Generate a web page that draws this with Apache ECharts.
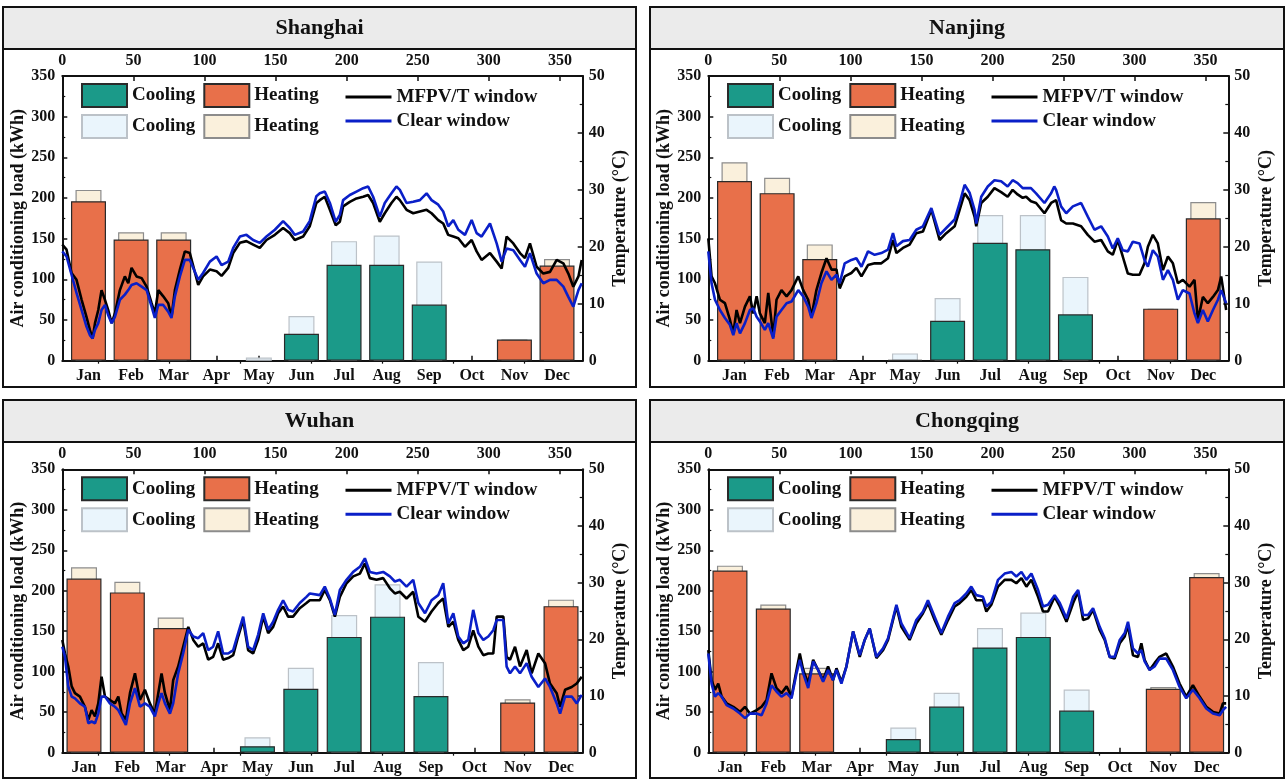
<!DOCTYPE html>
<html>
<head>
<meta charset="utf-8">
<title>Air conditioning load and indoor temperature</title>
<script src="https://cdn.jsdelivr.net/npm/echarts@6/dist/echarts.min.js"></script>
<style>
  html, body { margin: 0; padding: 0; background: #fff; }
  #chart { width: 1287px; height: 780px; }
</style>
</head>
<body>
<div id="chart"></div>
<script>
// ---- categories and tick labels ----
const months = ['Jan', 'Feb', 'Mar', 'Apr', 'May', 'Jun', 'Jul', 'Aug', 'Sep', 'Oct', 'Nov', 'Dec'];
const dayTicks = [0, 50, 100, 150, 200, 250, 300, 350];
const dayMinorTicks = [25, 75, 125, 175, 225, 275, 325];

// ---- monthly air conditioning load (kWh) ----
// MFPV/T window
const shanghaiHeatMfpvt = [196, 149, 149, null, null, null, null, null, null, null, 26, 117];
const shanghaiCoolMfpvt = [null, null, null, null, null, 33, 118, 118, 69, null, null, null];
const nanjingHeatMfpvt  = [221, 206, 125, null, null, null, null, null, null, null, 64, 175];
const nanjingCoolMfpvt  = [null, null, null, null, 1, 49, 145, 137, 57, null, null, null];
const wuhanHeatMfpvt    = [215, 198, 154, null, null, null, null, null, null, null, 62, 181];
const wuhanCoolMfpvt    = [null, null, null, null, 8, 79, 143, 168, 70, null, null, null];
const chongqingHeatMfpvt = [225, 178, 98, null, null, null, null, null, null, null, 79, 217];
const chongqingCoolMfpvt = [null, null, null, null, 17, 57, 130, 143, 52, null, null, null];
// Clear window
const shanghaiHeatClear = [210, 158, 158, null, null, null, null, null, null, null, 26, 125];
const shanghaiCoolClear = [null, null, null, null, 4, 55, 147, 154, 122, null, null, null];
const nanjingHeatClear  = [244, 225, 143, null, null, null, null, null, null, null, 64, 195];
const nanjingCoolClear  = [null, null, null, null, 9, 77, 179, 179, 103, null, null, null];
const wuhanHeatClear    = [229, 211, 167, null, null, null, null, null, null, null, 66, 189];
const wuhanCoolClear    = [null, null, null, null, 19, 105, 170, 208, 112, null, null, null];
const chongqingHeatClear = [231, 183, 105, null, null, null, null, null, null, null, 81, 222];
const chongqingCoolClear = [null, null, null, null, 31, 74, 154, 173, 78, null, null, null];

// ---- indoor temperature (°C), [day of year, value] ----
const shanghaiTempMfpvt = [[0,20.4],[3,19.5],[6.5,15.4],[10,14.2],[13.6,10.7],[17,7.7],[19.4,5.4],[21.3,3.9],[23,6.6],[25.3,8.9],[27.6,12.4],[30,10.7],[32.3,8.9],[34.7,6.6],[37,8.3],[40.5,12.4],[44,14.8],[46.4,13.6],[48.7,16.3],[52.2,14.8],[55.8,14.5],[59.3,13.0],[62.8,10.1],[65.1,8.3],[67.5,12.4],[71,11.3],[74.5,10.1],[76.8,7.7],[79.2,12.4],[82.7,16.0],[86.2,19.2],[89.7,18.9],[95.6,13.3],[99,14.8],[103.8,16.0],[108.5,15.7],[112,14.9],[116.7,16.3],[120.2,18.9],[124.9,20.7],[129.5,21.0],[134.2,20.4],[138.9,19.8],[143.6,21.2],[149.5,22.1],[155.3,23.3],[160,22.4],[163.5,21.2],[169.4,21.8],[174,23.6],[178.7,27.7],[181.1,28.2],[184.6,28.8],[188.2,26.5],[192.3,23.8],[195.2,24.4],[197.5,27.1],[202.2,27.9],[206.9,28.5],[211.6,28.8],[215.1,29.1],[218.6,27.7],[223.3,24.4],[226.8,25.9],[231.5,27.7],[235,28.8],[237.4,28.2],[242.1,26.5],[246.8,25.9],[251.5,26.2],[256.2,26.5],[259.7,25.9],[264.4,24.7],[267.9,24.1],[271.4,22.1],[275,21.8],[278.5,21.5],[283.2,20.0],[287.9,21.2],[291.4,19.2],[294.9,17.7],[300.8,18.9],[305.5,17.4],[309,16.2],[312.5,21.8],[317.2,20.6],[321.9,18.9],[325.4,18.0],[328.9,20.6],[333.6,16.5],[338.3,15.3],[343,15.6],[347.7,17.7],[352.4,17.1],[355.9,15.3],[359.4,13.0],[363,14.8],[365.3,17.7]];
const shanghaiTempClear = [[0,19.2],[3,18.3],[6.5,15.1],[10,11.9],[13.6,8.9],[17,6.0],[19.4,4.5],[21.3,3.9],[23,5.4],[25.3,6.6],[27.6,8.9],[30,9.8],[32.3,8.0],[34.7,6.6],[37,7.7],[40.5,10.7],[44,11.6],[46.4,12.4],[48.7,13.3],[52.2,13.6],[55.8,13.0],[59.3,12.4],[62.8,9.5],[65.1,7.5],[67.5,9.8],[71,9.8],[74.5,8.6],[76.8,7.5],[79.2,11.3],[82.7,14.8],[86.2,17.7],[89.7,17.7],[95.6,14.2],[99,15.4],[103.8,17.4],[108.5,18.3],[112,16.8],[116.7,17.4],[120.2,19.8],[124.9,21.8],[129.5,22.1],[134.2,21.2],[138.9,20.7],[143.6,21.8],[149.5,23.0],[155.3,24.5],[160,23.3],[163.5,22.1],[169.4,22.7],[174,24.5],[178.7,28.9],[181.1,29.4],[184.6,29.7],[188.2,27.7],[192.3,24.4],[195.2,25.6],[197.5,28.2],[202.2,29.1],[206.9,29.7],[211.6,30.3],[215.1,30.6],[218.6,28.8],[223.3,25.3],[226.8,27.7],[231.5,29.4],[235,30.6],[237.4,30.0],[242.1,27.7],[246.8,27.9],[251.5,28.2],[256.2,29.4],[259.7,28.2],[264.4,27.4],[267.9,26.2],[271.4,23.6],[275,24.7],[278.5,23.0],[283.2,22.1],[287.9,24.7],[291.4,22.4],[294.9,21.8],[300.8,24.1],[305.5,20.6],[309,17.4],[312.5,19.7],[317.2,19.4],[321.9,17.7],[325.4,16.5],[328.9,18.9],[333.6,15.3],[338.3,13.6],[343,14.2],[347.7,14.2],[352.4,13.0],[355.9,11.2],[359.4,9.5],[363,12.4],[365.3,13.6]];

const nanjingTempMfpvt = [[0,21.5],[2.3,14.8],[4.7,13.6],[8.2,10.7],[11.7,10.1],[15.2,7.2],[17.6,4.8],[19.9,8.9],[22.3,6.6],[25.8,9.5],[29.3,11.3],[31.6,8.3],[34,11.3],[36.3,8.3],[39.8,6.6],[42.2,11.9],[45.7,4.2],[48,10.7],[51.5,12.4],[55.1,11.3],[58.6,12.4],[63.3,14.8],[66.8,12.4],[70.3,10.7],[72.6,7.7],[76.1,12.4],[79.6,15.4],[83.2,18.0],[86.7,16.0],[90.2,16.0],[92.5,12.7],[96,14.8],[100.7,15.4],[104.2,16.3],[107.8,14.8],[112.4,16.8],[117.1,17.1],[121.8,17.1],[126.5,18.0],[130,21.2],[132.4,18.9],[137,19.8],[141.7,20.4],[146.4,22.4],[151.1,22.7],[157,26.5],[162.8,21.2],[167.5,22.4],[173.4,23.6],[176.9,26.5],[180.4,29.4],[183.9,28.2],[187.4,25.3],[188.6,23.6],[192.1,27.7],[196.7,28.8],[201.4,30.3],[206.1,29.6],[210.7,28.8],[214.2,30.0],[217.7,29.2],[221.3,28.6],[223.7,28.8],[227.1,28.0],[230.7,27.7],[236.6,25.9],[241.3,27.7],[244.8,28.2],[248.3,24.7],[251.9,24.1],[256.6,24.1],[262.4,23.6],[267.1,22.1],[271.8,20.9],[276.5,21.2],[281.2,19.2],[284.7,18.6],[288.2,21.2],[291.7,18.3],[295.3,15.3],[298.8,15.1],[303.5,15.1],[307,17.1],[309.4,20.0],[312.9,22.1],[316.4,20.6],[320,15.9],[323.5,18.3],[327,17.1],[330.5,13.6],[334,14.2],[338.7,13.0],[342.2,14.2],[344.6,7.1],[348.1,11.2],[351.6,10.1],[355.2,11.2],[358.7,12.4],[361,14.8],[364.5,8.9]];
const nanjingTempClear = [[0,19.2],[2.3,13.6],[4.7,10.7],[8.2,8.9],[11.7,7.5],[15.2,6.3],[17.6,4.5],[19.9,6.6],[22.3,4.8],[25.8,6.6],[29.3,8.9],[31.6,9.2],[34,7.7],[36.3,6.9],[39.8,5.4],[42.2,6.6],[45.7,3.9],[48,7.7],[51.5,8.9],[55.1,10.1],[58.6,10.4],[63.3,12.4],[66.8,11.3],[70.3,9.5],[72.6,7.5],[76.1,10.1],[79.6,13.6],[83.2,15.7],[86.7,14.2],[90.2,15.1],[92.5,13.6],[96,17.1],[100.7,17.7],[104.2,18.0],[107.8,16.5],[112.4,19.2],[117.1,18.6],[121.8,18.9],[126.5,19.5],[130,22.4],[132.4,20.1],[137,21.0],[141.7,21.2],[146.4,23.0],[151.1,23.6],[157,26.8],[162.8,22.1],[167.5,23.3],[173.4,24.8],[176.9,27.7],[180.4,30.9],[183.9,29.5],[187.4,26.5],[188.6,24.1],[192.1,28.8],[196.7,30.6],[201.4,31.7],[206.1,31.5],[210.7,30.6],[214.2,31.7],[217.7,31.2],[221.3,30.3],[223.7,30.3],[227.1,30.3],[230.7,29.4],[236.6,27.7],[241.3,29.4],[243.5,30.6],[244.8,30.0],[248.3,27.1],[251.9,25.9],[256.6,27.1],[262.4,27.7],[267.1,25.3],[271.8,23.0],[276.5,23.6],[281.2,21.8],[284.7,19.7],[288.2,21.5],[291.7,19.4],[295.3,19.2],[298.8,20.9],[303.5,20.6],[307,17.7],[309.4,16.5],[312.9,19.4],[316.4,18.3],[320,14.2],[323.5,15.9],[327,14.2],[330.5,10.7],[334,12.4],[338.7,11.8],[342.2,8.3],[344.6,6.6],[348.1,8.9],[351.6,6.9],[355.2,8.9],[358.7,10.7],[361,12.4],[364.5,10.1]];

const wuhanTempMfpvt = [[0,19.9],[1.9,17.5],[4.2,15.2],[6.6,11.7],[8.9,10.5],[12.4,9.9],[15.9,8.1],[18.3,5.8],[20.6,7.5],[23,6.4],[25.3,8.7],[27.6,13.4],[30,9.9],[33.5,9.3],[37,8.7],[39.4,9.9],[41.7,6.9],[44.7,5.8],[47.6,10.5],[51.1,14.0],[54.6,9.3],[58.1,11.1],[61.6,8.7],[65.1,6.9],[67.5,10.5],[69.8,14.0],[72.2,10.5],[75.7,7.5],[78,12.8],[81.5,15.2],[85,18.7],[88.6,22.2],[92.1,19.9],[95.6,18.7],[99.1,19.3],[102.6,16.4],[106.1,16.9],[109.6,19.3],[113.1,16.4],[116.7,16.7],[120.2,17.2],[123.7,20.5],[127.2,23.4],[130.7,18.1],[134.2,17.5],[137.7,19.9],[141.3,24.0],[144.8,21.1],[148.3,22.2],[151.8,24.6],[155.3,25.8],[158.8,24.0],[162.3,24.0],[167,25.5],[171.7,26.4],[174.1,26.9],[181.1,26.9],[184.6,28.7],[188.2,26.9],[191.7,24.0],[195.2,27.5],[199.9,29.9],[204.6,31.1],[209.3,31.6],[212.8,33.4],[216.3,30.8],[221,30.5],[225.7,30.8],[230.4,29.0],[233.9,28.1],[237.4,28.4],[242.1,27.2],[246.8,28.4],[250.4,24.0],[255.1,23.1],[259.7,24.9],[264.4,26.4],[267.9,27.2],[271.5,22.2],[275,23.1],[278.5,19.9],[282,18.1],[285.5,18.7],[289,21.6],[292.6,18.7],[296.1,17.2],[299.6,17.5],[303.1,17.5],[305.5,24.0],[310.2,24.0],[312.5,16.9],[314.9,16.4],[318.4,18.7],[321.9,15.2],[326.6,18.1],[330.1,14.0],[334.8,17.5],[339.5,15.8],[343,12.2],[347.7,10.5],[350.1,8.1],[353.6,11.1],[358.3,11.6],[361.8,12.2],[365.3,13.4]];
const wuhanTempClear = [[0,18.7],[1.9,16.9],[4.2,11.7],[6.6,9.9],[8.9,9.6],[12.4,8.7],[15.9,8.1],[18.3,5.2],[20.6,5.5],[23,5.2],[25.3,6.9],[27.6,9.9],[30,9.9],[33.5,8.7],[37,8.1],[39.4,7.5],[41.7,6.4],[44.7,4.9],[47.6,8.7],[51.1,11.4],[54.6,8.1],[58.1,8.7],[61.6,8.1],[65.1,6.4],[67.5,8.7],[69.8,10.5],[72.2,8.7],[75.7,6.9],[78,8.7],[81.5,14.0],[85,17.5],[88.6,21.7],[92.1,20.5],[95.6,20.2],[99.1,21.1],[102.6,18.1],[106.1,18.7],[109.6,21.4],[113.1,17.5],[116.7,17.5],[120.2,18.1],[123.7,21.1],[127.2,24.0],[130.7,18.7],[134.2,18.1],[137.7,20.8],[141.3,24.6],[144.8,21.7],[148.3,23.1],[151.8,25.2],[155.3,26.9],[158.8,25.2],[162.3,24.9],[167,26.4],[171.7,27.5],[174.1,28.1],[181.1,27.8],[184.6,29.3],[188.2,27.2],[191.7,24.3],[195.2,28.7],[199.9,30.5],[204.6,31.9],[209.3,32.8],[212.8,34.3],[216.3,31.9],[221,31.6],[225.7,31.9],[230.4,31.1],[233.9,30.2],[237.4,30.5],[242.1,29.3],[246.8,30.5],[250.4,26.4],[255.1,24.6],[259.7,26.9],[264.4,27.8],[267.9,29.9],[271.5,22.8],[275,24.6],[278.5,20.5],[282,19.3],[285.5,19.9],[289,25.2],[292.6,21.1],[296.1,19.9],[299.6,20.5],[303.1,21.6],[305.5,23.4],[310.2,23.4],[312.5,15.2],[314.9,14.0],[318.4,15.2],[321.9,14.0],[326.6,15.8],[330.1,13.4],[334.8,11.6],[339.5,13.1],[343,11.6],[347.7,8.7],[350.1,6.9],[353.6,9.9],[358.3,9.9],[361.8,8.7],[365.3,10.2]];

const chongqingTempMfpvt = [[0,18.1],[2.3,12.8],[4.7,11.1],[7,12.2],[9.4,9.9],[12.9,8.7],[17.6,8.1],[22.3,7.2],[25.8,8.1],[29.3,6.9],[34,7.5],[37.5,8.1],[41,9.3],[44.5,14.0],[48,11.4],[51.5,10.5],[55.1,11.7],[58.6,9.9],[62.1,14.6],[64.4,17.5],[66.8,14.6],[70.3,12.2],[73.8,16.4],[77.3,14.6],[80.8,12.8],[84.3,15.2],[87.8,12.8],[90.2,14.9],[93.7,12.5],[97.2,15.2],[101.9,21.4],[106.6,16.9],[110.1,19.9],[113.6,21.9],[118.3,16.7],[123,18.1],[126.5,19.9],[132.4,25.8],[135.9,22.2],[141.7,19.9],[146.4,22.8],[151.1,24.6],[154.6,26.4],[159.3,23.4],[164,20.8],[168.7,23.4],[173.4,25.8],[176.9,26.4],[181.6,27.5],[185.1,28.7],[188.6,26.9],[193.3,26.9],[195.7,24.9],[199.2,26.1],[203.9,29.3],[208.6,30.5],[213.3,30.5],[216.8,29.9],[220.4,30.8],[223.9,29.3],[227.4,30.5],[232.1,27.5],[235.6,24.9],[239.1,24.9],[243.8,27.5],[247.4,25.8],[252.1,23.1],[256.8,26.4],[260.3,28.4],[263.8,23.4],[267.3,23.7],[270.8,25.2],[275.5,21.6],[279,19.9],[282.5,16.9],[286,16.6],[289.6,19.3],[293.1,20.5],[295.4,22.5],[298.9,17.2],[302.4,16.9],[304.8,19.3],[307.1,16.4],[310.6,14.6],[314.1,15.8],[317.6,16.9],[322.3,17.5],[327,15.2],[331.7,12.2],[336.4,9.9],[341.1,11.9],[345.8,9.9],[350.5,8.1],[355.2,7.2],[359.9,6.9],[362.2,8.7],[364.5,8.7]];
const chongqingTempClear = [[0,17.5],[2.3,12.2],[4.7,9.9],[7,10.5],[9.4,9.9],[12.9,8.4],[17.6,7.8],[22.3,6.9],[25.8,6.1],[29.3,6.9],[34,6.9],[37.5,6.6],[41,8.7],[44.5,11.9],[48,10.8],[51.5,9.9],[55.1,10.5],[58.6,9.6],[62.1,14.0],[64.4,16.4],[66.8,14.0],[70.3,11.4],[73.8,16.1],[77.3,14.6],[80.8,12.5],[84.3,14.6],[87.8,12.8],[90.2,14.6],[93.7,12.2],[97.2,15.2],[101.9,21.4],[106.6,17.2],[110.1,19.9],[113.6,21.9],[118.3,16.9],[123,18.4],[126.5,20.2],[132.4,26.1],[135.9,22.8],[141.7,20.2],[146.4,23.4],[151.1,24.9],[154.6,26.9],[159.3,24.0],[164,21.1],[168.7,24.0],[173.4,26.4],[176.9,26.9],[181.6,28.1],[185.1,29.3],[188.6,27.8],[193.3,27.5],[195.7,25.8],[199.2,26.6],[203.9,30.5],[208.6,31.6],[213.3,31.9],[216.8,31.1],[220.4,31.9],[223.9,30.5],[227.4,31.6],[232.1,28.7],[235.6,25.8],[239.1,26.1],[243.8,27.8],[247.4,26.4],[252.1,23.7],[256.8,27.5],[260.3,28.7],[263.8,24.3],[267.3,24.3],[270.8,25.5],[275.5,22.2],[279,20.2],[282.5,16.9],[286,16.9],[289.6,19.9],[293.1,21.1],[295.4,23.1],[298.9,18.4],[302.4,17.5],[304.8,18.1],[307.1,16.1],[310.6,14.6],[314.1,15.2],[317.6,16.6],[322.3,16.6],[327,14.6],[331.7,11.6],[336.4,9.6],[341.1,11.1],[345.8,9.6],[350.5,7.8],[355.2,6.9],[359.9,6.6],[362.2,7.5],[364.5,8.1]];

// ---- panel layout (pixels): outer box, plot frame, bar band ----
const panels = [
  { name: 'Shanghai',  box: [3, 7, 633, 380],   plot: [62.3, 76, 520.4, 284.7],   bars: [67.2, 511.1],
    heatM: shanghaiHeatMfpvt, coolM: shanghaiCoolMfpvt, heatC: shanghaiHeatClear, coolC: shanghaiCoolClear,
    tempM: shanghaiTempMfpvt, tempC: shanghaiTempClear },
  { name: 'Nanjing',   box: [650, 7, 634, 380], plot: [708.3, 76, 520, 284.7],    bars: [713.2, 511.4],
    heatM: nanjingHeatMfpvt, coolM: nanjingCoolMfpvt, heatC: nanjingHeatClear, coolC: nanjingCoolClear,
    tempM: nanjingTempMfpvt, tempC: nanjingTempClear },
  { name: 'Wuhan',     box: [3, 400, 633, 378],  plot: [62.3, 469.3, 520.4, 283.4], bars: [62.3, 520.4],
    heatM: wuhanHeatMfpvt, coolM: wuhanCoolMfpvt, heatC: wuhanHeatClear, coolC: wuhanCoolClear,
    tempM: wuhanTempMfpvt, tempC: wuhanTempClear },
  { name: 'Chongqing', box: [650, 400, 634, 378], plot: [708.3, 469.3, 520, 283.4],  bars: [708.3, 520],
    heatM: chongqingHeatMfpvt, coolM: chongqingCoolMfpvt, heatC: chongqingHeatClear, coolC: chongqingCoolClear,
    tempM: chongqingTempMfpvt, tempC: chongqingTempClear }
];

const SERIF = '"Liberation Serif", "Times New Roman", Times, serif';
const INK = '#111';
const lineAxis = { show: true, onZero: false, lineStyle: { color: INK, width: 2 } };
const labelFont = { fontFamily: SERIF, fontWeight: 'bold', fontSize: 16, color: INK };

const option = {
  animation: false,
  backgroundColor: '#fff',
  grid: [], xAxis: [], yAxis: [], series: [], legend: [], graphic: []
};

const legendText = { fontFamily: SERIF, fontWeight: 'bold', fontSize: 19, color: INK };
const stripWindow = n => n.replace(/ \(.*\)$/, '');

panels.forEach(p => {
  const [L, T, W, H] = p.plot;
  const gB = option.grid.length;
  option.grid.push({ left: L, top: T, width: W, height: H });
  const gA = option.grid.length;
  option.grid.push({ left: p.bars[0], top: T, width: p.bars[1], height: H });

  const xi = option.xAxis.length;
  option.xAxis.push(
    // day of year, top
    { gridIndex: gB, type: 'value', position: 'top', min: 0, max: 366,
      axisLine: lineAxis,
      axisTick: { show: true, inside: true, length: 5, customValues: dayTicks, lineStyle: { color: INK, width: 1.5 } },
      axisLabel: Object.assign({ margin: 7, customValues: dayTicks }, labelFont),
      splitLine: { show: false } },
    // minor day ticks
    { gridIndex: gB, type: 'value', position: 'top', min: 0, max: 366,
      axisLine: { show: false },
      axisTick: { show: true, inside: true, length: 3, customValues: dayMinorTicks, lineStyle: { color: INK, width: 1.2 } },
      axisLabel: { show: false }, splitLine: { show: false } },
    // bottom frame line
    { gridIndex: gB, type: 'value', position: 'bottom', min: 0, max: 366,
      axisLine: lineAxis, axisTick: { show: false }, axisLabel: { show: false }, splitLine: { show: false } },
    // month band for the clear-window bars
    { gridIndex: gA, type: 'category', position: 'bottom', data: months, show: false },
    // month band for the MFPV/T bars, carries the month labels
    { gridIndex: gA, type: 'category', position: 'bottom', data: months,
      axisLine: { show: false },
      axisTick: { show: true, inside: true, alignWithLabel: true, length: 5, lineStyle: { color: INK, width: 1.5 } },
      axisLabel: Object.assign({ margin: 7 }, labelFont) }
  );

  const yi = option.yAxis.length;
  option.yAxis.push(
    { gridIndex: gB, type: 'value', position: 'left', min: 0, max: 350, interval: 50,
      axisLine: lineAxis,
      axisTick: { show: true, inside: true, length: 5, lineStyle: { color: INK, width: 1.5 } },
      minorTick: { show: true, splitNumber: 2, length: 3, lineStyle: { color: INK, width: 1.2 } },
      axisLabel: Object.assign({ margin: 7 }, labelFont),
      splitLine: { show: false },
      name: 'Air conditioning load (kWh)', nameLocation: 'middle', nameGap: 35,
      nameTextStyle: { fontFamily: SERIF, fontWeight: 'bold', fontSize: 18, color: INK } },
    { gridIndex: gB, type: 'value', position: 'right', min: 0, max: 50, interval: 10,
      axisLine: lineAxis,
      axisTick: { show: true, inside: true, length: 5, lineStyle: { color: INK, width: 1.5 } },
      minorTick: { show: true, splitNumber: 2, length: 3, lineStyle: { color: INK, width: 1.2 } },
      axisLabel: Object.assign({ margin: 6 }, labelFont),
      splitLine: { show: false },
      name: 'Temperature (°C)', nameLocation: 'middle', nameGap: 29,
      nameTextStyle: { fontFamily: SERIF, fontWeight: 'bold', fontSize: 18, color: INK } },
    { gridIndex: gA, type: 'value', min: 0, max: 350, show: false }
  );

  const lightBar = (name, data, color, border) => ({
    type: 'bar', name, data, xAxisIndex: xi + 3, yAxisIndex: yi + 2,
    barWidth: 26, barGap: '-100%',
    itemStyle: { color, borderColor: border, borderWidth: 1.2 }
  });
  const darkBar = (name, data, color) => ({
    type: 'bar', name, data, xAxisIndex: xi + 4, yAxisIndex: yi + 2,
    barWidth: 35, barGap: '-100%',
    itemStyle: { color, borderColor: '#2a2a2a', borderWidth: 1.2 }
  });
  const tempLine = (name, data, color) => ({
    type: 'line', name, data, xAxisIndex: xi, yAxisIndex: yi + 1,
    symbol: 'none', showSymbol: false, smooth: false,
    lineStyle: { color, width: 2.6 }, itemStyle: { color }
  });

  option.series.push(
    lightBar('Cooling (Clear window)', p.coolC, '#eaf5fc', '#bcc2c8'),
    lightBar('Heating (Clear window)', p.heatC, '#faf0dc', '#8c8c8c'),
    darkBar('Cooling (MFPV/T window)', p.coolM, '#1b9a89'),
    darkBar('Heating (MFPV/T window)', p.heatM, '#e8704a'),
    tempLine('MFPV/T window', p.tempM, '#000000'),
    tempLine('Clear window', p.tempC, '#0a1fc8')
  );

  const legendCol = (left, top, names, w, extra) => Object.assign({
    orient: 'vertical', left, top, padding: 0, itemGap: 6,
    itemWidth: w, itemHeight: 23, selectedMode: false,
    data: names, formatter: stripWindow, textStyle: legendText
  }, extra);
  option.legend.push(
    legendCol(L + 18.7, T + 7, ['Cooling (MFPV/T window)', 'Cooling (Clear window)'], 45, { icon: 'rect' }),
    legendCol(L + 141, T + 7, ['Heating (MFPV/T window)', 'Heating (Clear window)'], 45, { icon: 'rect' }),
    // plain line keys: the marker dot is made transparent
    legendCol(L + 281.7, T + 11.5, ['MFPV/T window', 'Clear window'], 46,
      { itemHeight: 20, itemGap: 5,
        itemStyle: { color: 'rgba(0,0,0,0)', borderColor: 'rgba(0,0,0,0)', borderWidth: 0 },
        lineStyle: { width: 3 } })
  );

  const [bx, by, bw, bh] = p.box;
  option.graphic.push(
    { type: 'rect', shape: { x: bx, y: by, width: bw, height: 42 },
      style: { fill: '#ebebeb', stroke: INK, lineWidth: 2 } },
    { type: 'rect', shape: { x: bx, y: by, width: bw, height: bh },
      style: { fill: 'none', stroke: INK, lineWidth: 2 } },
    { type: 'text', x: bx + bw / 2, y: by + 21,
      style: { text: p.name, font: 'bold 22px ' + SERIF, fill: INK,
               align: 'center', verticalAlign: 'middle', textAlign: 'center', textVerticalAlign: 'middle' } }
  );
});

const chart = echarts.init(document.getElementById('chart'), null, { renderer: 'canvas' });
chart.setOption(option);
</script>
</body>
</html>
